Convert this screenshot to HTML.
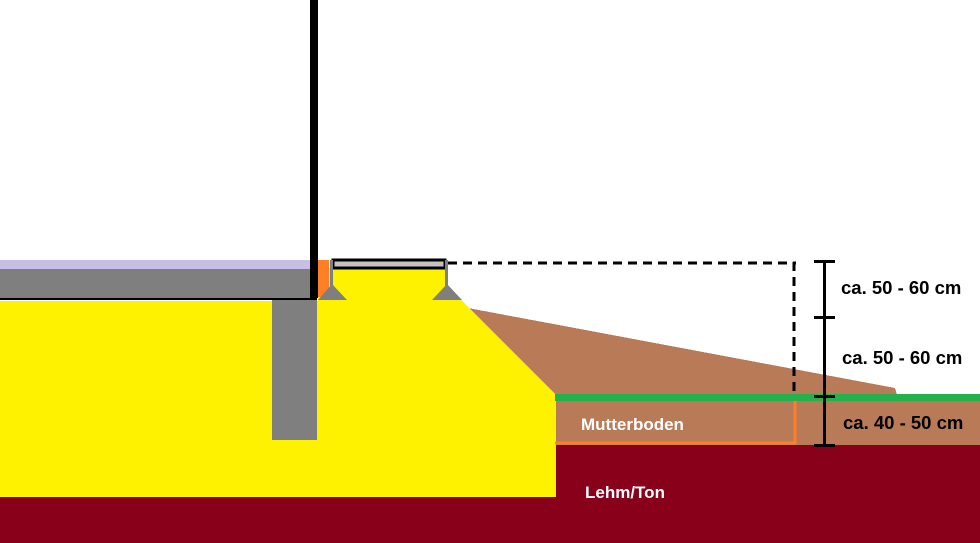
<!DOCTYPE html>
<html><head><meta charset="utf-8"><style>
html,body{margin:0;padding:0;background:#fff;width:980px;height:543px;overflow:hidden}
svg text{font-family:"Liberation Sans",Arial,sans-serif;font-weight:bold}
</style></head><body>
<svg width="980" height="543" viewBox="0 0 980 543" xmlns="http://www.w3.org/2000/svg" shape-rendering="crispEdges">
<rect width="980" height="543" fill="#fff"/>
<rect x="0" y="497" width="980" height="46" fill="#880019"/>
<rect x="555" y="445" width="425" height="98" fill="#880019"/>
<rect x="555" y="401" width="425" height="44" fill="#b97a57"/>
<polygon points="468,308 895,388 897,395 555,395 555,396" fill="#b97a57"/>
<polygon points="0,301 318,301 318,268 447,268 447,300 461,300 556,395 556,497 0,497" fill="#fff200"/>
<rect x="555" y="394" width="425" height="7" fill="#22b14c"/>
<polyline points="555,443 795,443 795,401" fill="none" stroke="#ff7f27" stroke-width="3"/>
<rect x="0" y="260" width="310" height="9" fill="#c8bfe7"/>
<rect x="0" y="269" width="317" height="31" fill="#7f7f7f"/>
<rect x="0" y="298" width="317" height="2" fill="#000"/>
<rect x="315" y="269" width="2" height="31" fill="#000"/>
<rect x="272" y="300" width="45" height="140" fill="#7f7f7f"/>
<rect x="310" y="0" width="8" height="298" fill="#000"/>
<rect x="318" y="260" width="11" height="37" fill="#ff7f27"/>
<rect x="333" y="260" width="112" height="8" fill="#c3c3c3" stroke="#000" stroke-width="3"/>
<rect x="330" y="260" width="3" height="30" fill="#7f7f7f"/>
<polygon points="332,284 347,300 318,300" fill="#7f7f7f" shape-rendering="auto"/>
<rect x="445" y="260" width="3" height="30" fill="#7f7f7f"/>
<polygon points="447,284 462,300 432,300" fill="#7f7f7f" shape-rendering="auto"/>
<line x1="448" y1="263" x2="796" y2="263" stroke="#000" stroke-width="3" stroke-dasharray="9,6"/>
<line x1="794" y1="262" x2="794" y2="395" stroke="#000" stroke-width="3" stroke-dasharray="9,6"/>
<rect x="823" y="260" width="3" height="186" fill="#000"/>
<rect x="814" y="260" width="21" height="3" fill="#000"/>
<rect x="814" y="316" width="21" height="3" fill="#000"/>
<rect x="814" y="395" width="21" height="3" fill="#000"/>
<rect x="814" y="444" width="21" height="3" fill="#000"/>
<text x="841" y="294" fill="#000" font-size="18.5">ca. 50 - 60 cm</text>
<text x="842" y="364" fill="#000" font-size="18.5">ca. 50 - 60 cm</text>
<text x="843" y="429" fill="#000" font-size="18.5">ca. 40 - 50 cm</text>
<text x="581" y="430" fill="#fff" font-size="17">Mutterboden</text>
<text x="585" y="498" fill="#fff" font-size="17">Lehm/Ton</text>
</svg>
</body></html>
